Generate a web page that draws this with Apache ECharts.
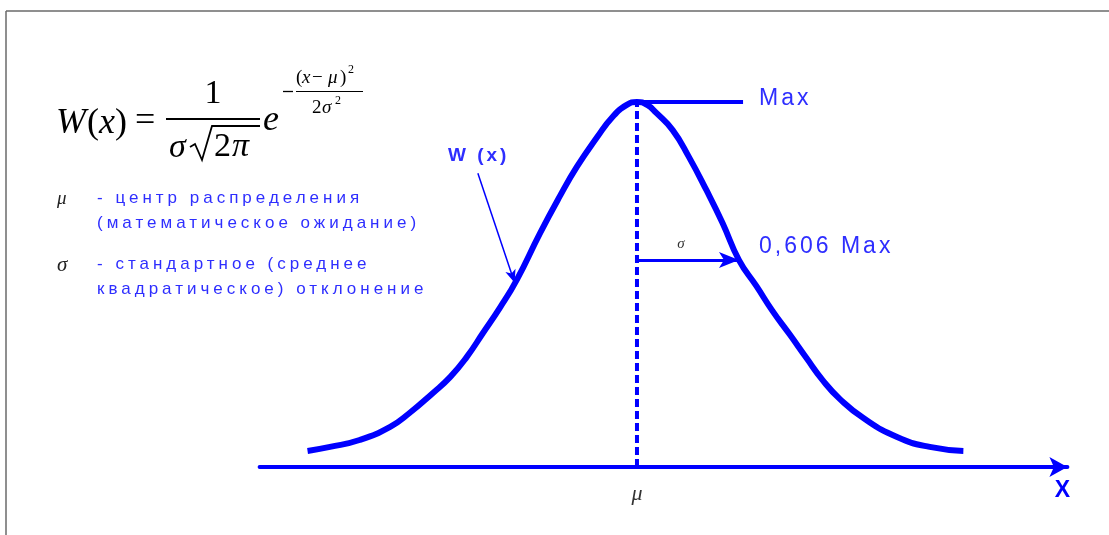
<!DOCTYPE html>
<html>
<head>
<meta charset="utf-8">
<script src="https://cdn.jsdelivr.net/npm/echarts@6/dist/echarts.min.js"></script>
<style>
  html, body { margin: 0; padding: 0; background: #ffffff; }
  #chart { width: 1109px; height: 535px; }
</style>
</head>
<body>
<div id="chart"></div>
<script>
// Bell curve W(x): x measured in sigmas from the mean, W as a share of its maximum
const curveX = [-3.23, -3.01, -2.72, -2.42, -2.23, -2.0, -1.83, -1.67, -1.51, -1.34, -1.18, -0.95, -0.76, -0.59, -0.39, -0.24, -0.1,
                0, 0.1, 0.19, 0.35, 0.51, 0.68, 0.84, 1.0, 1.17, 1.33, 1.5, 1.66, 1.82, 1.99, 2.22, 2.55, 2.87, 3.2];
const curveW = [0.044, 0.055, 0.074, 0.110, 0.148, 0.203, 0.247, 0.301, 0.367, 0.438, 0.512, 0.641, 0.740, 0.822, 0.904, 0.959, 0.992,
                1.0, 0.992, 0.970, 0.923, 0.849, 0.759, 0.668, 0.567, 0.496, 0.427, 0.362, 0.299, 0.238, 0.186, 0.134, 0.082, 0.055, 0.044];

const meanX = 0;          // mu
const sigmaX = 1;         // one standard deviation to the right of mu
const maxLineEndX = 1.04; // end of the "Max" level line
const pointerFrom = [-1.56, 0.805]; // tail of the W(x) pointer
const pointerTo = [-1.2, 0.505];    // head of the W(x) pointer, on the curve
const xRange = [-3.7, 4.22];
const wRange = [0, 1];

// Caption strings
const descLines = ['- центр распределения', '(математическое ожидание)', '- стандартное (среднее', 'квадратическое) отклонение'];
const maxLabel = 'Max';
const sigmaLabel = '0,606 Max';
const curveLabel = 'W (x)';
const axisName = 'X';

// Sans captions are set with wide tracking
const ctxProto = CanvasRenderingContext2D.prototype;
const plainFillText = ctxProto.fillText;
ctxProto.fillText = function (t, x, y, w) {
  const m = /(\d+(?:\.\d+)?)px\s+"?Liberation Sans/.exec(this.font);
  this.letterSpacing = m ? (parseFloat(m[1]) < 18 ? '4px' : '3px') : '0px';
  return w === undefined ? plainFillText.call(this, t, x, y) : plainFillText.call(this, t, x, y, w);
};

const blue = '#0000ff';
const textBlue = '#2e2eff';
const ink = '#222222';

const curveData = curveX.map((x, i) => [x, curveW[i]]);
const sigmaLevel = curveW[curveX.indexOf(sigmaX)];

function sans(text, x, y, size, color, weight, align) {
  return { type: 'text', x: x, y: y, silent: true,
    style: { text: text, fill: color, font: (weight || 'normal') + ' ' + size + 'px "Liberation Sans"',
             verticalAlign: 'middle', align: align || 'left' } };
}
function serif(text, x, y, size, italic, color, align) {
  return { type: 'text', x: x, y: y, silent: true,
    style: { text: text, fill: color || '#000000', font: (italic ? 'italic ' : '') + size + 'px "Liberation Serif"',
             verticalAlign: 'middle', align: align || 'left' } };
}
function seg(x1, y1, x2, y2, w, color) {
  return { type: 'line', silent: true, shape: { x1: x1, y1: y1, x2: x2, y2: y2 },
    style: { stroke: color || '#000000', lineWidth: w } };
}

const graphics = [
  // frame
  seg(6, 11, 1109, 11, 1.5, '#6a6a6a'),
  seg(6, 11, 6, 535, 1.5, '#6a6a6a'),

  // W(x) = 1 / (sigma sqrt(2 pi)) e^{-(x-mu)^2 / (2 sigma^2)}
  serif('W', 56, 124, 36, true),
  serif('(', 87, 124, 36, false),
  serif('x', 99, 124, 36, true),
  serif(')', 115, 124, 36, false),
  serif('=', 135, 122, 36, false),
  serif('1', 213, 94, 34, false, '#000000', 'center'),
  seg(166, 119, 260, 119, 2),
  serif('σ', 169, 148, 34, true),
  { type: 'polyline', silent: true,
    shape: { points: [[190, 147], [195, 144], [202, 160], [212, 126], [260, 126]] },
    style: { stroke: '#000000', lineWidth: 1.8, fill: null } },
  serif('2', 214, 147, 34, false),
  serif('π', 232, 147, 34, true),
  serif('e', 263, 121, 36, true),
  seg(283, 91.5, 293, 91.5, 1.3),
  serif('(', 296, 78, 19, false),
  serif('x', 302, 78, 19, true),
  serif('−', 312, 78, 19, false),
  serif('μ', 328, 78, 19, true),
  serif(')', 340, 78, 19, false),
  serif('2', 348, 70, 12, false),
  seg(296, 91.5, 363, 91.5, 1.2),
  serif('2', 312, 108, 19, false),
  serif('σ', 322, 108, 19, true),
  serif('2', 335, 101, 12, false),

  // legend of symbols
  serif('μ', 57, 199, 19, true, ink),
  sans(descLines[0], 97, 198, 17, textBlue),
  sans(descLines[1], 97, 223, 17, textBlue),
  serif('σ', 57, 265, 21, true, ink),
  sans(descLines[2], 97, 264, 17, textBlue),
  sans(descLines[3], 97, 289, 17, textBlue),

  // curve annotations
  sans(curveLabel, 448, 156, 19, textBlue, 'bold'),
  sans(maxLabel, 759, 99, 23, textBlue),
  sans(sigmaLabel, 759, 247, 23, textBlue),
  serif('σ', 681, 244, 15, true, '#333333', 'center'),
  serif('μ', 637, 494, 22, true, '#333333', 'center'),
  sans(axisName, 1064, 491, 23, blue, 'bold', 'center')
];

const chart = echarts.init(document.getElementById('chart'), null, { renderer: 'canvas' });
chart.setOption({
  animation: false,
  backgroundColor: '#ffffff',
  grid: { left: 259.6, top: 102, width: 807.8, height: 365, containLabel: false },
  xAxis: {
    type: 'value', min: xRange[0], max: xRange[1],
    axisLine: { show: true, onZero: true, symbol: ['none', 'arrow'], symbolSize: [15, 18],
                lineStyle: { color: blue, width: 4 } },
    axisTick: { show: false }, axisLabel: { show: false }, splitLine: { show: false }
  },
  yAxis: { type: 'value', min: wRange[0], max: wRange[1], show: false, splitLine: { show: false } },
  series: [
    { name: 'W(x)', type: 'line', data: curveData, smooth: 0.5, smoothMonotone: 'none', symbol: 'none', silent: true, z: 4,
      lineStyle: { color: blue, width: 6 } },
    { name: 'mu', type: 'line', data: [[meanX, wRange[0]], [meanX, wRange[1]]], symbol: 'none', silent: true, z: 3,
      lineStyle: { color: blue, width: 4, type: [8, 4] } },
    { name: 'max', type: 'line', data: [[meanX, wRange[1]], [maxLineEndX, wRange[1]]], symbol: 'none', silent: true, z: 3,
      lineStyle: { color: blue, width: 4 },
      markLine: { silent: true, symbol: ['none', 'arrow'], symbolSize: [12, 20], label: { show: false },
        lineStyle: { color: blue, width: 3, type: 'solid' },
        data: [[{ coord: [meanX, sigmaLevel] }, { coord: [sigmaX, sigmaLevel] }]] } },
    { name: 'pointer', type: 'line', data: [pointerFrom], symbol: 'none', silent: true, z: 3,
      lineStyle: { width: 0 },
      markLine: { silent: true, symbol: ['none', 'arrow'], symbolSize: [8, 13], label: { show: false },
        lineStyle: { color: blue, width: 1.5, type: 'solid' },
        data: [[{ coord: pointerFrom }, { coord: pointerTo }]] } }
  ],
  graphic: graphics
});
</script>
</body>
</html>
